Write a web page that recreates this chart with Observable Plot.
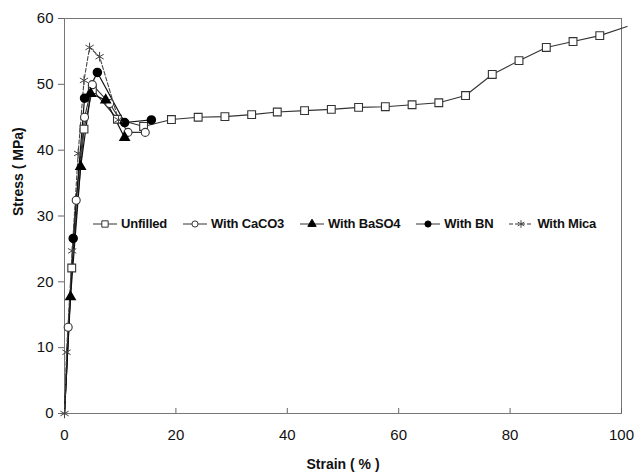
<!DOCTYPE html>
<html>
<head>
<meta charset="utf-8">
<script src="https://cdn.jsdelivr.net/npm/d3@7"></script>
<script src="https://cdn.jsdelivr.net/npm/@observablehq/plot@0.6"></script>
<style>
  html, body { margin: 0; padding: 0; background: #fff; }
  #wrap { position: relative; width: 635px; height: 476px; font-family: "Liberation Sans", Arial, sans-serif; }
  #legend { position: absolute; left: 92px; top: 216px; display: flex; align-items: center; font-weight: bold; font-size: 13px; color: #111; letter-spacing: -0.2px; }
  #legend .item { display: flex; align-items: center; margin-right: 15px; }
  #legend svg { margin-right: 3px; }
</style>
</head>
<body>
<div id="wrap"><div id="legend"></div></div>
<script>
// Data
const strainUnfilled = [0, 1.3, 3.5, 5.0, 9.5, 14.2, 19.2, 24.0, 28.8, 33.6, 38.2, 43.1, 47.9, 52.8, 57.6, 62.4, 67.2, 72.0, 76.8, 81.6, 86.5, 91.3, 96.1, 101];
const stressUnfilled = [0, 22.1, 43.2, 49.2, 44.7, 43.6, 44.65, 45.0, 45.1, 45.4, 45.8, 46.0, 46.2, 46.5, 46.6, 46.9, 47.2, 48.3, 51.5, 53.6, 55.6, 56.5, 57.4, 58.8];
const strainCaCO3 = [0, 0.66, 2.1, 3.6, 5.0, 8.1, 11.4, 14.5];
const stressCaCO3 = [0, 13.1, 32.4, 45.0, 49.95, 47.1, 42.7, 42.7];
const strainBaSO4 = [0, 1.08, 2.9, 4.7, 7.4, 10.8];
const stressBaSO4 = [0, 17.7, 37.5, 48.6, 47.6, 41.9];
const strainBN = [0, 1.56, 3.6, 5.9, 10.8, 15.6];
const stressBN = [0, 26.6, 47.9, 51.8, 44.2, 44.6];
const strainMica = [0, 0.36, 1.38, 2.45, 3.5, 4.5, 6.3, 9.7];
const stressMica = [0, 9.3, 24.7, 39.5, 50.6, 55.6, 54.2, 44.6];
const seriesNames = ["Unfilled", "With CaCO3", "With BaSO4", "With BN", "With Mica"];
const xTicks = [0, 20, 40, 60, 80, 100];
const yTicks = [0, 10, 20, 30, 40, 50, 60];
const xLabel = "Strain ( % )";
const yLabel = "Stress ( MPa)";

const zip = (xs, ys) => xs.map((x, i) => ({x, y: ys[i]}));
const unfilled = zip(strainUnfilled, stressUnfilled);
const caco3 = zip(strainCaCO3, stressCaCO3);
const baso4 = zip(strainBaSO4, stressBaSO4);
const bn = zip(strainBN, stressBN);
const mica = zip(strainMica, stressMica);
const visible = d => d.x > 0 && d.x <= 100;

const lineCol = "#333";
const styles = [
  {symbol: "square", fill: "#fff", stroke: "#333", dash: null, size: 40},
  {symbol: "circle", fill: "#fff", stroke: "#333", dash: null, size: 30},
  {symbol: "triangle", fill: "#000", stroke: "#000", dash: null, size: 30},
  {symbol: "circle", fill: "#000", stroke: "#000", dash: null, size: 30},
  {symbol: "asterisk", fill: "none", stroke: "#444", dash: "4,2", size: 40}
];

const chart = Plot.plot({
  width: 635,
  height: 476,
  marginLeft: 64,
  marginRight: 14,
  marginTop: 18,
  marginBottom: 63,
  style: {fontFamily: "Liberation Sans, Arial, sans-serif", background: "#fff", color: "#111"},
  x: {domain: [0, 100], ticks: xTicks, label: null},
  y: {domain: [0, 60], ticks: yTicks, label: null},
  marks: [
    Plot.frame({stroke: "#777", strokeWidth: 1}),
    Plot.axisX({ticks: xTicks, tickSize: -5, tickPadding: 21, fontSize: 15, stroke: "#666", label: null, tickFormat: d => d}),
    Plot.axisY({ticks: yTicks, tickSize: 6, tickPadding: 5, fontSize: 15, stroke: "#666", label: null, tickFormat: d => d}),
    Plot.text([xLabel], {frameAnchor: "bottom", dy: 55, fontSize: 14, fontWeight: "bold", fill: "#111"}),
    Plot.text([yLabel], {frameAnchor: "left", dx: -46, rotate: -90, fontSize: 14, fontWeight: "bold", fill: "#111"}),
    // Lines
    Plot.line(unfilled, {x: "x", y: "y", stroke: lineCol, strokeWidth: 1.1}),
    Plot.line(caco3, {x: "x", y: "y", stroke: lineCol, strokeWidth: 1.1}),
    Plot.line(baso4, {x: "x", y: "y", stroke: "#111", strokeWidth: 1.2}),
    Plot.line(bn, {x: "x", y: "y", stroke: "#111", strokeWidth: 1.2}),
    Plot.line(mica, {x: "x", y: "y", stroke: "#444", strokeWidth: 1.1, strokeDasharray: "4,2"}),
    // Markers
    Plot.dot(unfilled.filter(visible), {x: "x", y: "y", symbol: "square", r: 4.4, fill: "#fff", stroke: "#333", strokeWidth: 1.1}),
    Plot.dot(caco3.filter(visible), {x: "x", y: "y", symbol: "circle", r: 4, fill: "#fff", stroke: "#333", strokeWidth: 1.1}),
    Plot.dot(baso4.filter(visible), {x: "x", y: "y", symbol: "triangle", r: 3.4, fill: "#000", stroke: "#000"}),
    Plot.dot(bn.filter(visible), {x: "x", y: "y", symbol: "circle", r: 4, fill: "#000", stroke: "#000"}),
    Plot.dot(mica, {x: "x", y: "y", symbol: "asterisk", r: 4.5, stroke: "#444", strokeWidth: 1})
  ]
});
document.getElementById("wrap").prepend(chart);

// Legend (HTML overlay)
const legend = d3.select("#legend");
seriesNames.forEach((name, i) => {
  const st = styles[i];
  const item = legend.append("div").attr("class", "item");
  const svg = item.append("svg").attr("width", 26).attr("height", 12);
  svg.append("line").attr("x1", 1).attr("x2", 25).attr("y1", 6).attr("y2", 6)
    .attr("stroke", "#333").attr("stroke-width", 1).attr("stroke-dasharray", st.dash);
  const sym = d3.symbol().type({square: d3.symbolSquare, circle: d3.symbolCircle, triangle: d3.symbolTriangle, asterisk: d3.symbolAsterisk}[st.symbol]).size(st.size);
  svg.append("path").attr("d", sym()).attr("transform", "translate(13,6)")
    .attr("fill", st.fill).attr("stroke", st.stroke).attr("stroke-width", 1);
  item.append("span").text(name);
});
</script>
</body>
</html>
